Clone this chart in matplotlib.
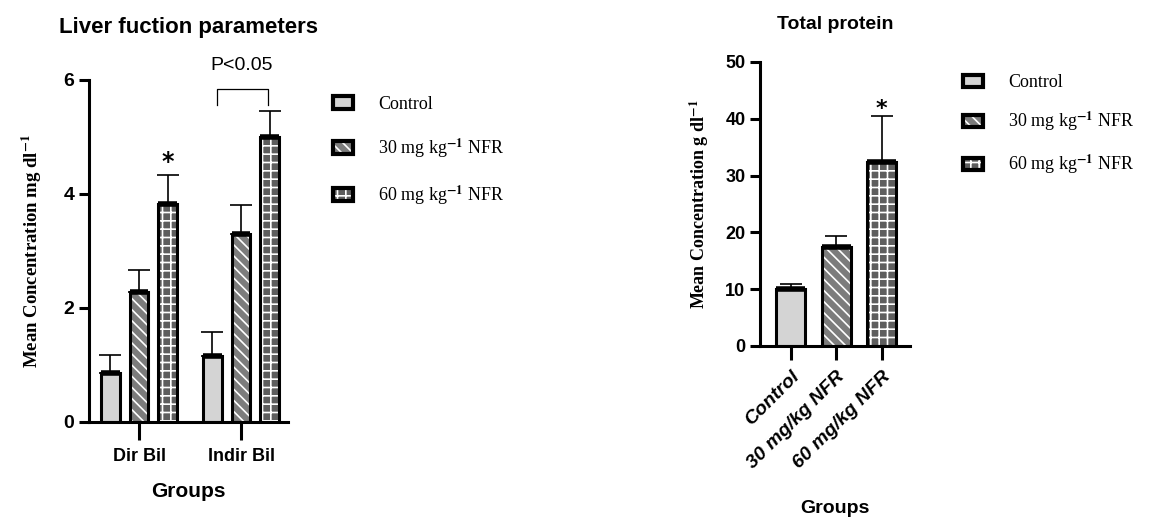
import matplotlib
matplotlib.use('Agg')
import matplotlib.pyplot as plt
from matplotlib.patches import Patch
from matplotlib.legend_handler import HandlerTuple
import numpy as np

# data ==========================================================
bil_groups = ['Dir Bil', 'Indir Bil']
series_names = ['Control', '30 mg kg$^{\\mathbf{-1}}$ NFR', '60 mg kg$^{\\mathbf{-1}}$ NFR']
ctrl_bil = [0.86, 1.16]
nfr30_bil = [2.28, 3.30]
nfr60_bil = [3.83, 5.00]
ctrl_bil_err = [0.32, 0.42]
nfr30_bil_err = [0.39, 0.51]
nfr60_bil_err = [0.50, 0.46]

protein_groups = ['Control', '30 mg/kg NFR', '60 mg/kg NFR']
protein_mean = [10.0, 17.5, 32.4]
protein_err = [1.0, 1.9, 8.1]

# styles
face_cols = ['#d4d4d4', '#7c7c7c', '#5e5e5e']
hatches = [None, '\\\\\\', '++']
sans = ['Liberation Sans', 'DejaVu Sans']
serif = ['Liberation Serif', 'DejaVu Serif']

plt.rcParams['mathtext.fontset'] = 'stix'
plt.rcParams['hatch.linewidth'] = 1.2
plt.rcParams['axes.linewidth'] = 2.2


def draw_bars(ax, x, vals, errs, width, fc, hatch):
    # fill + white hatch first, then black outline, thick top, upper error bar
    ax.bar(x, vals, width, color=fc, edgecolor='white', hatch=hatch, linewidth=0, zorder=2)
    ax.bar(x, vals, width, facecolor='none', edgecolor='black', linewidth=2.2, zorder=3)
    ax.hlines(vals, np.array(x) - width / 2, np.array(x) + width / 2, colors='black',
              linewidth=4, zorder=4)
    ax.errorbar(x, vals, yerr=[np.zeros(len(vals)), errs], fmt='none', ecolor='black',
                elinewidth=1.2, capsize=8, capthick=1.2, zorder=1)


def style_axis(ax, size):
    for s in ['top', 'right']:
        ax.spines[s].set_visible(False)
    ax.tick_params(axis='y', width=2.2, length=7, direction='out')
    for lab in ax.get_yticklabels():
        lab.set_family(sans)
        lab.set_fontweight('bold')
        lab.set_fontsize(size)


fig = plt.figure(figsize=(11.5, 5.17), dpi=100)

# left chart ====================================================
ax1 = fig.add_axes([89 / 1150, 1 - 422 / 517, 199 / 1150, 342 / 517])
xg = np.arange(len(bil_groups))
off = 0.28
w = 0.18
draw_bars(ax1, xg - off, ctrl_bil, ctrl_bil_err, w, face_cols[0], hatches[0])
draw_bars(ax1, xg, nfr30_bil, nfr30_bil_err, w, face_cols[1], hatches[1])
draw_bars(ax1, xg + off, nfr60_bil, nfr60_bil_err, w, face_cols[2], hatches[2])
ax1.set_ylim(0, 6)
ax1.set_xlim(-0.49, 1.46)
ax1.set_yticks([0, 2, 4, 6])
ax1.set_xticks(xg)
ax1.set_xticklabels(bil_groups, family=sans, fontweight='bold', fontsize=13)
ax1.tick_params(axis='x', length=13, width=2.2, pad=6)
style_axis(ax1, 14)
ax1.set_xlabel('Groups', family=sans, fontweight='bold', fontsize=15, labelpad=12)
ax1.set_ylabel('Mean Concentration mg dl$^{\\mathbf{-1}}$', family=serif, fontweight='bold',
               fontsize=13.5, labelpad=14)
ax1.set_title('Liver fuction parameters', family=sans, fontweight='bold', fontsize=16, pad=34)
ax1.text(xg[0] + off, nfr60_bil[0] + nfr60_bil_err[0] + 0.02, '*', ha='center', va='bottom',
         fontsize=17, fontweight='bold')
# bracket between Indir Bil control and 60 mg
bx0, bx1 = xg[1] - 0.24, xg[1] + 0.26
ax1.plot([bx0, bx0, bx1, bx1], [5.56, 5.84, 5.84, 5.56], color='black', lw=0.9, clip_on=False)
ax1.text((bx0 + bx1) / 2, 6.26, 'P<0.05', ha='center', va='center', family=sans, fontsize=14)

# right chart ===================================================
ax2 = fig.add_axes([760 / 1150, 1 - 346 / 517, 150 / 1150, 284 / 517])
xp = np.arange(len(protein_groups))
wp = 0.64
for i in range(len(protein_groups)):
    draw_bars(ax2, [xp[i]], [protein_mean[i]], [protein_err[i]], wp, face_cols[i], hatches[i])
ax2.set_ylim(0, 50)
ax2.set_xlim(-0.68, 2.62)
ax2.set_yticks([0, 10, 20, 30, 40, 50])
ax2.set_xticks(xp)
ax2.set_xticklabels(protein_groups, rotation=45, ha='right', rotation_mode='anchor',
                    family=sans, fontweight='bold', fontstyle='italic', fontsize=14)
ax2.tick_params(axis='x', length=10, width=2.2, pad=6)
style_axis(ax2, 13)
ax2.set_xlabel('Groups', family=sans, fontweight='bold', fontsize=14, labelpad=20)
ax2.set_ylabel('Mean Concentration g dl$^{\\mathbf{-1}}$', family=serif, fontweight='bold',
               fontsize=13, labelpad=10)
ax2.set_title('Total protein', family=sans, fontweight='bold', fontsize=14, pad=24)
ax2.text(xp[2], protein_mean[2] + protein_err[2] - 0.5, '*', ha='center', va='bottom',
         fontsize=16, fontweight='bold')

# legends =======================================================
handles = []
for i in range(3):
    handles.append((Patch(facecolor=face_cols[i], edgecolor='white', hatch=hatches[i], lw=0),
                    Patch(facecolor='none', edgecolor='black', lw=3)))

fig.legend(handles, series_names, loc='upper left', bbox_to_anchor=(333 / 1150, 1 - 96 / 517),
           frameon=False, prop={'family': serif, 'size': 13}, handlelength=1.1,
           handleheight=0.75, handletextpad=1.4, labelspacing=1.3, borderpad=0,
           borderaxespad=0, handler_map={tuple: HandlerTuple(ndivide=1, pad=0)})
fig.legend(handles, series_names, loc='upper left', bbox_to_anchor=(963 / 1150, 1 - 74 / 517),
           frameon=False, prop={'family': serif, 'size': 13}, handlelength=1.1,
           handleheight=0.65, handletextpad=1.4, labelspacing=1.05, borderpad=0,
           borderaxespad=0, handler_map={tuple: HandlerTuple(ndivide=1, pad=0)})

fig.savefig('out.png', dpi=100)
